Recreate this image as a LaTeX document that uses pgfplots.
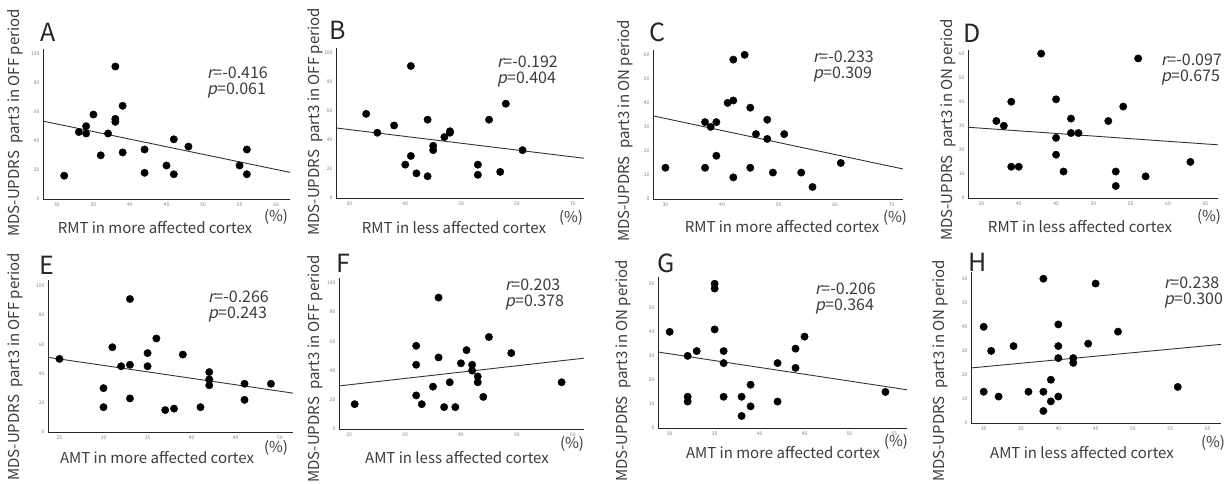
\documentclass[border=0pt]{standalone}
\usepackage{fontspec}
\setmainfont{Noto Sans CJK JP}[AutoFakeSlant=0.2]
\usepackage{pgfplots}
\pgfplotsset{compat=1.18}
\definecolor{txt}{RGB}{60,60,60}
\newcommand\ttlfont{\fontsize{15}{15}\selectfont\color{txt}}
\newcommand\letfont{\fontsize{25}{25}\selectfont\color{black!85}}
\newcommand\rpfont{\fontsize{16}{16}\selectfont\color{txt}}
\pgfplotsset{
  panel/.style={
    scale only axis, anchor=south west,
    axis lines=left, axis line style={-, line width=1pt, black!85},
    ymin=0, major tick length=0pt,
    /pgf/number format/assume math mode=true,
    tick label style={font=\fontsize{5}{5}\selectfont, text=gray},
    clip=false,
  },
  dots/.style={only marks, mark=*, mark size=3.7pt, black},
  fit/.style={black!80, line width=0.9pt, no marks},
}
\begin{document}
\begin{tikzpicture}
\path[use as bounding box] (0,0) rectangle (1226pt,-483pt);
\clip (0,0) rectangle (1226pt,-483pt);
% ---------- A ----------
\begin{axis}[panel, at={(43pt,-199pt)}, width=247pt, height=150pt,
  xmin=28.1, xmax=61.9, ymax=103, xtick={30,35,...,60}, ytick={0,20,...,100}]
\addplot[dots] coordinates {(31,16)(33,46)(34,50)(34,45)(35,58)(36,30)(37,45)(38,91)(38,55)(38,53)(39,64)(39,32)(42,34)(42,18)(45,23)(46,41)(46,17)(48,36)(55,23)(56,34)(56,17)};
\addplot[fit] coordinates {(28.1,53.5)(61.9,18.3)};
\end{axis}
% ---------- B ----------
\begin{axis}[panel, at={(336pt,-198pt)}, width=248pt, height=150pt,
  xmin=27.6, xmax=72, ymax=103.4, xtick={30,40,...,70}, ytick={0,20,...,100}]
\addplot[dots] coordinates {(33,58)(35,45)(38,50)(40,23)(41,91)(41,29)(42,17)(44,54)(44,15)(45,36)(45,33)(47,42)(48,46)(48,45)(53,23)(53,16)(55,54)(57,18)(58,65)(61,33)};
\addplot[fit] coordinates {(27.6,48.3)(72,27.4)};
\end{axis}
% ---------- C ----------
\begin{axis}[panel, at={(653pt,-199pt)}, width=250pt, height=149pt,
  xmin=27.8, xmax=72, ymax=62, xtick={30,40,...,70}, ytick={0,10,...,60}]
\addplot[dots] coordinates {(30,13)(37,13)(37,32)(38,30)(39,32)(39,18)(41,40)(42,58)(42,41)(42,9)(44,60)(45,38)(45,13)(46,27)(48,33)(48,25)(49,11)(51,27)(54,11)(56,5)(61,15)};
\addplot[fit] coordinates {(27.8,34.6)(72,12.5)};
\end{axis}
% ---------- D ----------
\begin{axis}[panel, at={(968pt,-198pt)}, width=250pt, height=148pt,
  xmin=33.2, xmax=66.7, ymax=61.5, xtick={35,40,...,65}, ytick={0,10,...,60}]
\addplot[dots] coordinates {(37,32)(38,30)(39,40)(39,13)(40,13)(43,60)(45,41)(45,25)(45,18)(46,11)(47,33)(47,27)(48,27)(52,32)(53,11)(53,5)(54,38)(56,58)(57,9)(63,15)};
\addplot[fit] coordinates {(33.2,29.4)(66.7,22.1)};
\end{axis}
% ---------- E ----------
\begin{axis}[panel, at={(48pt,-432pt)}, width=245pt, height=152pt,
  xmin=23.7, xmax=51.5, ymax=104, xtick={25,30,...,50}, ytick={0,20,...,100}]
\addplot[dots] coordinates {(25,50)(30,30)(30,17)(31,58)(32,45)(33,91)(33,46)(33,23)(35,54)(35,45)(36,64)(37,15)(38,16)(39,53)(41,17)(42,41)(42,36)(42,32)(46,33)(46,22)(49,33)};
\addplot[fit] coordinates {(23.7,51.1)(51.5,26.6)};
\end{axis}
% ---------- F ----------
\begin{axis}[panel, at={(339pt,-429pt)}, width=245pt, height=151pt,
  xmin=18.2, xmax=62, ymax=103.4, xtick={20,30,...,60}, ytick={0,20,...,100}]
\addplot[dots] coordinates {(21,17)(32,57)(32,44)(32,23)(33,17)(35,29)(36,90)(36,49)(37,15)(38,32)(39,15)(40,45)(41,54)(42,44)(42,40)(43,36)(43,32)(44,22)(45,63)(49,52)(58,32)};
\addplot[fit] coordinates {(18.2,29.5)(62,48.5)};
\end{axis}
% ---------- G ----------
\begin{axis}[panel, at={(658pt,-428pt)}, width=249pt, height=151pt,
  xmin=28.7, xmax=56.4, ymax=62.8, xtick={30,35,...,55}, ytick={0,10,...,60}]
\addplot[dots] coordinates {(30,40)(32,30)(32,13)(32,11)(33,32)(35,60)(35,58)(35,41)(36,32)(36,27)(36,13)(38,13)(38,5)(39,18)(39,9)(42,27)(42,11)(44,33)(44,25)(45,38)(54,15)};
\addplot[fit] coordinates {(28.7,31.6)(56.4,15.9)};
\end{axis}
% ---------- H ----------
\begin{axis}[panel, at={(971pt,-423pt)}, width=250pt, height=151pt,
  xmin=28.3, xmax=61.8, ymax=62.8, xtick={30,35,...,60}, ytick={0,10,...,60}]
\addplot[dots] coordinates {(30,40)(30,13)(31,30)(32,11)(34,32)(36,13)(38,60)(38,13)(38,5)(39,18)(39,9)(40,41)(40,32)(40,27)(40,11)(42,27)(42,25)(44,33)(45,58)(48,38)(56,15)};
\addplot[fit] coordinates {(28.3,22.9)(61.8,32.7)};
\end{axis}
% ---------- titles ----------
\foreach \x/\y/\t in {15/123/OFF, 315/122/OFF, 625/131/ON, 948/130/ON, 15/367/OFF, 315/369/OFF, 623/371/ON, 940/371/ON}
  \node[rotate=90, font=\ttlfont] at (\x pt,-\y pt) {MDS-UPDRS\enspace part3 in \t\ period};
\foreach \x/\y/\t in {155/228/more, 454/228/less, 782/227/more, 1080/227/less, 157/458/more, 457/458/less, 783/453/more, 1082/453/less}
  \node[font=\ttlfont] at (\x pt,-\y pt) {\ifnum\y<300 R\else A\fi MT in \t\ affected cortex};
\foreach \x/\y in {276/217, 571/218, 895/218, 1209/217, 276/448, 572/444, 896/442, 1213/443}
  \node[font=\ttlfont] at (\x pt,-\y pt) {(\%)};
\foreach \x/\y/\l in {48/32/A, 338/30/B, 657/32/C, 972/33/D, 47/265/E, 343/263/F, 666/263/G, 978/262/H}
  \node[font=\letfont] at (\x pt,-\y pt) {\l};
\foreach \x/\y/\r/\p in {207/73/-0.416/0.061, 497/62/-0.192/0.404, 813/57/-0.233/0.309, 1161/60/-0.097/0.675, 208/297/-0.266/0.243, 505/285/0.203/0.378, 815/289/-0.206/0.364, 1164/283/0.238/0.300}{
  \node[anchor=west, font=\rpfont, inner sep=0pt] at (\x pt,-\y pt) {\textit{r}=\r};
  \node[anchor=west, font=\rpfont, inner sep=0pt] at (\x pt,-\y pt-18pt) {\textit{p}=\p};
}
\end{tikzpicture}
\end{document}
